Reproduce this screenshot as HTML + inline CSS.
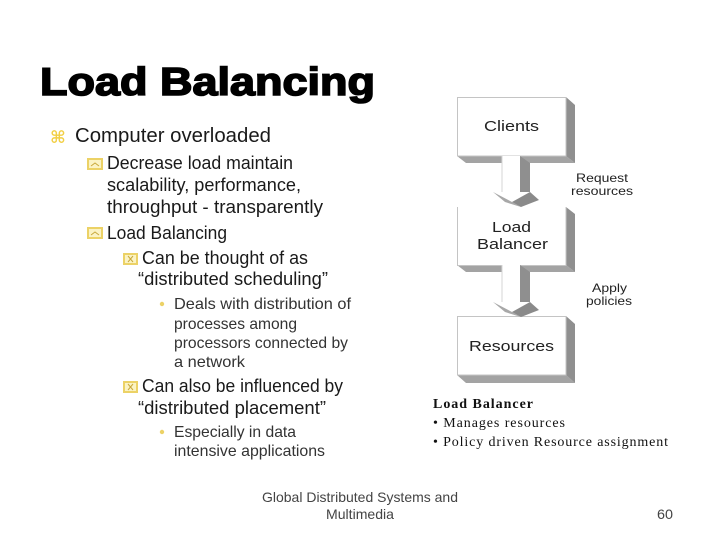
<!DOCTYPE html>
<html><head><meta charset="utf-8"><style>
html,body{margin:0;padding:0;background:#fff;width:720px;height:540px;overflow:hidden}
svg{display:block}
.s{font-family:"Liberation Sans",sans-serif;fill:#1a1a1a}
.a{font-size:20px}.b{font-size:18px}.c{font-size:16px;fill:#333}
.d{font-family:"Liberation Sans",sans-serif;fill:#222}
.r{font-family:"Liberation Serif",serif;font-size:14px;fill:#111}
.f{font-family:"Liberation Sans",sans-serif;font-size:14px;fill:#444}
</style></head><body>
<svg width="720" height="540" viewBox="0 0 720 540" xmlns="http://www.w3.org/2000/svg">
<rect width="720" height="540" fill="#fff"/>
<text x="40" y="95" class="s" font-size="39" font-weight="bold" stroke="#000" stroke-width="1.6" textLength="335" lengthAdjust="spacingAndGlyphs" style="fill:#000">Load Balancing</text>

<text x="50" y="143" font-family="DejaVu Sans,sans-serif" font-size="17" font-weight="bold" fill="#f2cf45">⌘</text>
<text x="75" y="142" class="s a" textLength="196" lengthAdjust="spacingAndGlyphs">Computer  overloaded</text>

<g fill="#fbf3c4" stroke="#ecd266" stroke-width="2">
<rect x="88" y="159" width="14" height="10"/><rect x="88" y="228" width="14" height="10"/>
<rect x="124" y="254" width="13" height="10"/><rect x="124" y="382" width="13" height="10"/>
</g>
<g fill="none" stroke="#c9a93c" stroke-width="1">
<path d="M91 166l4-3 4 3M91 235l4-3 4 3"/>
<path d="M128 256l5 6m0-6l-5 6M128 384l5 6m0-6l-5 6"/>
</g>
<circle cx="162" cy="304" r="2.2" fill="#ecd266"/>
<circle cx="162" cy="432" r="2.2" fill="#ecd266"/>

<text x="107" y="169" class="s b" textLength="186" lengthAdjust="spacingAndGlyphs">Decrease load maintain</text>
<text x="107" y="191" class="s b" textLength="194" lengthAdjust="spacingAndGlyphs">scalability, performance,</text>
<text x="107" y="213" class="s b" textLength="216" lengthAdjust="spacingAndGlyphs">throughput  - transparently</text>
<text x="107" y="239" class="s b" textLength="120" lengthAdjust="spacingAndGlyphs">Load Balancing</text>
<text x="142" y="264" class="s b" textLength="166" lengthAdjust="spacingAndGlyphs">Can be thought of as</text>
<text x="138" y="285" class="s b" textLength="190" lengthAdjust="spacingAndGlyphs">“distributed scheduling”</text>
<text x="174" y="309" class="s c" textLength="177" lengthAdjust="spacingAndGlyphs">Deals with distribution of</text>
<text x="174" y="329" class="s c" textLength="123" lengthAdjust="spacingAndGlyphs">processes among</text>
<text x="174" y="348" class="s c" textLength="174" lengthAdjust="spacingAndGlyphs">processors connected by</text>
<text x="174" y="367" class="s c" textLength="71" lengthAdjust="spacingAndGlyphs">a network</text>
<text x="142" y="392" class="s b" textLength="201" lengthAdjust="spacingAndGlyphs">Can also be influenced by</text>
<text x="138" y="414" class="s b" textLength="188" lengthAdjust="spacingAndGlyphs">“distributed placement”</text>
<text x="174" y="437" class="s c" textLength="122" lengthAdjust="spacingAndGlyphs">Especially in data</text>
<text x="174" y="456" class="s c" textLength="151" lengthAdjust="spacingAndGlyphs">intensive applications</text>

<!-- Clients box -->
<path d="M457 156L466 163H575L566 156Z" fill="#a3a3a3"/>
<path d="M566 97L575 105V163L566 156Z" fill="#8f8f8f"/>
<rect x="457.5" y="97.5" width="108.5" height="58.5" fill="#fff" stroke="#c4c4c4"/>
<!-- Load balancer box -->
<path d="M457 265L466 272H575L566 265Z" fill="#a3a3a3"/>
<path d="M566 207L575 214V272L566 265Z" fill="#8f8f8f"/>
<path d="M457.5 207V265.5H566V207" fill="#fff" stroke="#c4c4c4"/>
<!-- Resources box -->
<path d="M457 375L466 383H575L566 375Z" fill="#a3a3a3"/>
<path d="M566 316L575 324V383L566 375Z" fill="#8f8f8f"/>
<rect x="457.5" y="316.5" width="108.5" height="58.5" fill="#fff" stroke="#c4c4c4"/>

<!-- Arrow 1 -->
<path d="M520 156L530 163V192H520Z" fill="#8f8f8f"/>
<rect x="502" y="156" width="18" height="40" fill="#fff"/>
<path d="M502 156V192" stroke="#d6d6d6" fill="none"/>
<path d="M493 192L512 202L521 207L505 202Z" fill="#a8a8a8"/>
<path d="M512 202L530 192L539 200L521 207Z" fill="#8a8a8a"/>
<!-- Arrow 2 -->
<path d="M520 265L530 272V302H520Z" fill="#8f8f8f"/>
<rect x="502" y="265" width="18" height="40" fill="#fff"/>
<path d="M502 265V302" stroke="#d6d6d6" fill="none"/>
<path d="M493 302L512 312L521 317L505 312Z" fill="#a8a8a8"/>
<path d="M512 312L530 302L539 310L521 317Z" fill="#8a8a8a"/>

<text x="484" y="131" class="d" font-size="15" textLength="55" lengthAdjust="spacingAndGlyphs">Clients</text>
<text x="492" y="232" class="d" font-size="15" textLength="39" lengthAdjust="spacingAndGlyphs">Load</text>
<text x="477" y="249" class="d" font-size="15" textLength="71" lengthAdjust="spacingAndGlyphs">Balancer</text>
<text x="469" y="351" class="d" font-size="15" textLength="85" lengthAdjust="spacingAndGlyphs">Resources</text>
<text x="576" y="182" class="d" font-size="12" textLength="52" lengthAdjust="spacingAndGlyphs">Request</text>
<text x="571" y="195" class="d" font-size="12" textLength="62" lengthAdjust="spacingAndGlyphs">resources</text>
<text x="592" y="292" class="d" font-size="12" textLength="35" lengthAdjust="spacingAndGlyphs">Apply</text>
<text x="586" y="305" class="d" font-size="12" textLength="46" lengthAdjust="spacingAndGlyphs">policies</text>

<text x="433" y="408" class="r" font-weight="bold" textLength="100">Load Balancer</text>
<text x="433" y="427" class="r" textLength="132">• Manages resources</text>
<text x="433" y="446" class="r" textLength="235">• Policy driven Resource assignment</text>

<text x="262" y="502" class="f" textLength="196" lengthAdjust="spacingAndGlyphs">Global Distributed Systems and</text>
<text x="326" y="519" class="f" textLength="68" lengthAdjust="spacingAndGlyphs">Multimedia</text>
<text x="657" y="519" class="f" textLength="16" lengthAdjust="spacingAndGlyphs">60</text>
</svg>
</body></html>
